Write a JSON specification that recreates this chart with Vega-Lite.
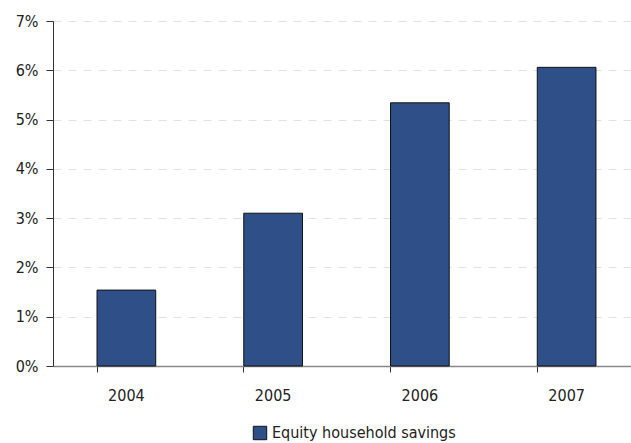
{
  "$schema": "https://vega.github.io/schema/vega-lite/v6.json",
  "width": 578,
  "height": 345,
  "autosize": "none",
  "padding": {"left": 53, "top": 21, "right": 0, "bottom": 77},
  "background": "white",
  "config": {
    "view": {"stroke": null},
    "font": "DejaVu Sans Condensed, sans-serif"
  },
  "data": {
    "values": [
      {"year": "2004", "value": 1.54, "series": "Equity household savings"},
      {"year": "2005", "value": 3.10, "series": "Equity household savings"},
      {"year": "2006", "value": 5.34, "series": "Equity household savings"},
      {"year": "2007", "value": 6.06, "series": "Equity household savings"}
    ]
  },
  "mark": {"type": "bar", "stroke": "#111111", "strokeWidth": 1},
  "encoding": {
    "x": {
      "field": "year",
      "type": "nominal",
      "scale": {"range": [0, 587], "paddingInner": 0.6, "paddingOuter": 0.3},
      "axis": {
        "title": null,
        "labelAngle": 0,
        "labelFontSize": 16,
        "labelColor": "#222222",
        "labelPadding": 15,
        "bandPosition": 0,
        "ticks": true,
        "tickSize": 6,
        "tickColor": "#333333",
        "domainColor": "#888888",
        "domainWidth": 1.5,
        "grid": false
      }
    },
    "y": {
      "field": "value",
      "type": "quantitative",
      "scale": {"domain": [0, 7], "nice": false},
      "axis": {
        "title": null,
        "values": [0, 1, 2, 3, 4, 5, 6, 7],
        "labelExpr": "datum.value + '%'",
        "labelFontSize": 16,
        "labelColor": "#222222",
        "labelPadding": 8,
        "tickSize": 7,
        "tickColor": "#333333",
        "domainColor": "#333333",
        "grid": true,
        "gridColor": "#dde3e3",
        "gridDash": [8, 7],
        "gridWidth": 1
      }
    },
    "color": {
      "field": "series",
      "type": "nominal",
      "scale": {"range": ["#2f4f88"]},
      "legend": {
        "title": null,
        "orient": "none",
        "legendX": 199,
        "legendY": 404,
        "symbolType": "square",
        "symbolSize": 180,
        "symbolStrokeColor": "#111111",
        "symbolStrokeWidth": 1,
        "labelFontSize": 16,
        "labelLimit": 0,
        "labelColor": "#222222",
        "labelOffset": 4
      }
    }
  }
}
